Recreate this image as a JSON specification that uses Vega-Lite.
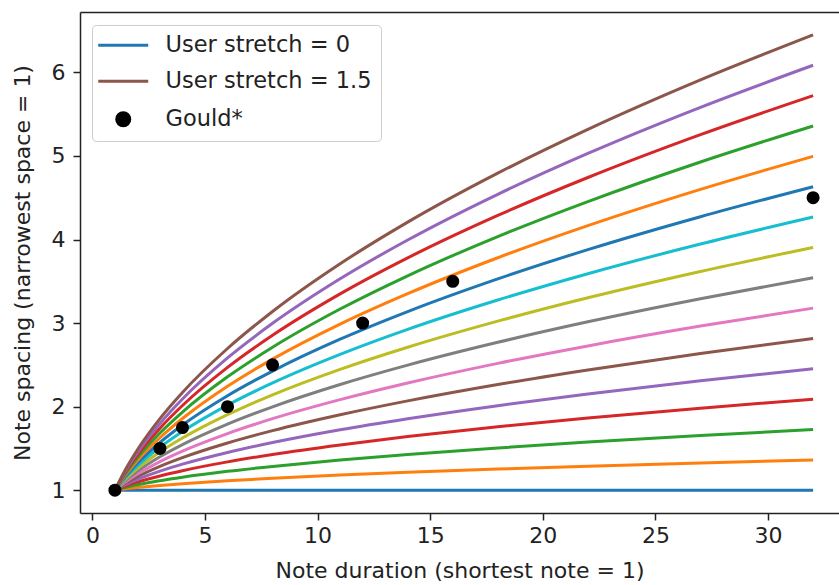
{
  "$schema": "https://vega.github.io/schema/vega-lite/v6.json",
  "width": 759,
  "height": 501,
  "autosize": {"type": "none"},
  "padding": {"left": 80, "top": 12, "right": 0, "bottom": 72},
  "background": "white",
  "config": {
    "view": {"stroke": null},
    "font": "DejaVu Sans",
    "axis": {
      "labelFont": "DejaVu Sans", "titleFont": "DejaVu Sans",
      "labelFontSize": 22, "titleFontSize": 22, "titleFontWeight": "normal",
      "labelColor": "#222", "titleColor": "#222",
      "domainColor": "#222", "domainWidth": 1.5,
      "tickColor": "#222", "tickWidth": 1.5, "tickSize": 7,
      "grid": false, "labelPadding": 5
    }
  },
  "encoding": {
    "y": {
      "field": "y", "type": "quantitative",
      "scale": {"domain": [0.7275, 6.7225], "nice": false, "zero": false},
      "axis": {"values": [1, 2, 3, 4, 5, 6], "title": "Note spacing (narrowest space = 1)", "titlePadding": 17, "labelPadding": 8}
    },
    "color": {
      "field": "s", "type": "nominal",
      "scale": {
        "domain": ["0","0.1","0.2","0.3","0.4","0.5","0.6","0.7","0.8","0.9","1","1.1","1.2","1.3","1.4","1.5","Gould*"],
        "range": ["#1f77b4","#ff7f0e","#2ca02c","#d62728","#9467bd","#8c564b","#e377c2","#7f7f7f","#bcbd22","#17becf","#1f77b4","#ff7f0e","#2ca02c","#d62728","#9467bd","#8c564b","#000000"]
      },
      "legend": {
        "orient": "none", "legendX": 12, "legendY": 13,
        "values": ["0", "1.5", "Gould*"],
        "title": null,
        "labelExpr": "datum.label === 'Gould*' ? 'Gould*' : 'User stretch = ' + datum.label",
        "symbolType": "stroke", "symbolSize": 100, "symbolStrokeWidth": 3,
        "symbolOffset": 11,
        "labelFont": "DejaVu Sans", "labelFontSize": 22.5, "labelColor": "#222", "labelLimit": 500,
        "padding": 9, "rowPadding": 13, "labelOffset": 31,
        "fillColor": "rgba(255,255,255,0.8)", "strokeColor": "#cccccc", "cornerRadius": 4,
        "encode": {
          "symbols": {
            "update": {
              "shape": {"signal": "datum.value === 'Gould*' ? 'circle' : 'M-5,0H5'"},
              "size": {"signal": "datum.value === 'Gould*' ? 170 : 100"},
              "fill": {"signal": "datum.value === 'Gould*' ? 'black' : 'transparent'"},
              "stroke": {"signal": "datum.value === 'Gould*' ? 'transparent' : scale('color', datum.value)"},
              "strokeWidth": {"value": 3},
              "opacity": {"value": 1}
            }
          }
        }
      }
    }
  },
  "layer": [
    {
      "data": {"values": [
        {"x":1,"s":"0","y":1},{"x":1.5,"s":"0","y":1},{"x":2,"s":"0","y":1},{"x":3,"s":"0","y":1},{"x":4,"s":"0","y":1},{"x":6,"s":"0","y":1},{"x":8,"s":"0","y":1},{"x":11,"s":"0","y":1},{"x":14,"s":"0","y":1},{"x":18,"s":"0","y":1},{"x":22,"s":"0","y":1},{"x":27,"s":"0","y":1},{"x":32,"s":"0","y":1},
        {"x":1,"s":"0.1","y":1},{"x":1.5,"s":"0.1","y":1.018},{"x":2,"s":"0.1","y":1.032},{"x":3,"s":"0.1","y":1.057},{"x":4,"s":"0.1","y":1.078},{"x":6,"s":"0.1","y":1.113},{"x":8,"s":"0.1","y":1.143},{"x":11,"s":"0.1","y":1.181},{"x":14,"s":"0.1","y":1.214},{"x":18,"s":"0.1","y":1.253},{"x":22,"s":"0.1","y":1.288},{"x":27,"s":"0.1","y":1.327},{"x":32,"s":"0.1","y":1.363},
        {"x":1,"s":"0.2","y":1},{"x":1.5,"s":"0.2","y":1.035},{"x":2,"s":"0.2","y":1.065},{"x":3,"s":"0.2","y":1.114},{"x":4,"s":"0.2","y":1.156},{"x":6,"s":"0.2","y":1.226},{"x":8,"s":"0.2","y":1.285},{"x":11,"s":"0.2","y":1.361},{"x":14,"s":"0.2","y":1.428},{"x":18,"s":"0.2","y":1.506},{"x":22,"s":"0.2","y":1.576},{"x":27,"s":"0.2","y":1.655},{"x":32,"s":"0.2","y":1.726},
        {"x":1,"s":"0.3","y":1},{"x":1.5,"s":"0.3","y":1.053},{"x":2,"s":"0.3","y":1.097},{"x":3,"s":"0.3","y":1.171},{"x":4,"s":"0.3","y":1.234},{"x":6,"s":"0.3","y":1.339},{"x":8,"s":"0.3","y":1.428},{"x":11,"s":"0.3","y":1.542},{"x":14,"s":"0.3","y":1.642},{"x":18,"s":"0.3","y":1.759},{"x":22,"s":"0.3","y":1.864},{"x":27,"s":"0.3","y":1.982},{"x":32,"s":"0.3","y":2.090},
        {"x":1,"s":"0.4","y":1},{"x":1.5,"s":"0.4","y":1.070},{"x":2,"s":"0.4","y":1.129},{"x":3,"s":"0.4","y":1.228},{"x":4,"s":"0.4","y":1.312},{"x":6,"s":"0.4","y":1.452},{"x":8,"s":"0.4","y":1.570},{"x":11,"s":"0.4","y":1.723},{"x":14,"s":"0.4","y":1.855},{"x":18,"s":"0.4","y":2.012},{"x":22,"s":"0.4","y":2.151},{"x":27,"s":"0.4","y":2.309},{"x":32,"s":"0.4","y":2.453},
        {"x":1,"s":"0.5","y":1},{"x":1.5,"s":"0.5","y":1.088},{"x":2,"s":"0.5","y":1.162},{"x":3,"s":"0.5","y":1.286},{"x":4,"s":"0.5","y":1.390},{"x":6,"s":"0.5","y":1.565},{"x":8,"s":"0.5","y":1.713},{"x":11,"s":"0.5","y":1.903},{"x":14,"s":"0.5","y":2.069},{"x":18,"s":"0.5","y":2.265},{"x":22,"s":"0.5","y":2.439},{"x":27,"s":"0.5","y":2.637},{"x":32,"s":"0.5","y":2.816},
        {"x":1,"s":"0.6","y":1},{"x":1.5,"s":"0.6","y":1.105},{"x":2,"s":"0.6","y":1.194},{"x":3,"s":"0.6","y":1.343},{"x":4,"s":"0.6","y":1.468},{"x":6,"s":"0.6","y":1.678},{"x":8,"s":"0.6","y":1.856},{"x":11,"s":"0.6","y":2.084},{"x":14,"s":"0.6","y":2.283},{"x":18,"s":"0.6","y":2.518},{"x":22,"s":"0.6","y":2.727},{"x":27,"s":"0.6","y":2.964},{"x":32,"s":"0.6","y":3.179},
        {"x":1,"s":"0.7","y":1},{"x":1.5,"s":"0.7","y":1.123},{"x":2,"s":"0.7","y":1.226},{"x":3,"s":"0.7","y":1.400},{"x":4,"s":"0.7","y":1.546},{"x":6,"s":"0.7","y":1.791},{"x":8,"s":"0.7","y":1.998},{"x":11,"s":"0.7","y":2.265},{"x":14,"s":"0.7","y":2.497},{"x":18,"s":"0.7","y":2.770},{"x":22,"s":"0.7","y":3.015},{"x":27,"s":"0.7","y":3.291},{"x":32,"s":"0.7","y":3.543},
        {"x":1,"s":"0.8","y":1},{"x":1.5,"s":"0.8","y":1.140},{"x":2,"s":"0.8","y":1.258},{"x":3,"s":"0.8","y":1.457},{"x":4,"s":"0.8","y":1.624},{"x":6,"s":"0.8","y":1.904},{"x":8,"s":"0.8","y":2.141},{"x":11,"s":"0.8","y":2.446},{"x":14,"s":"0.8","y":2.711},{"x":18,"s":"0.8","y":3.023},{"x":22,"s":"0.8","y":3.303},{"x":27,"s":"0.8","y":3.618},{"x":32,"s":"0.8","y":3.906},
        {"x":1,"s":"0.9","y":1},{"x":1.5,"s":"0.9","y":1.158},{"x":2,"s":"0.9","y":1.291},{"x":3,"s":"0.9","y":1.514},{"x":4,"s":"0.9","y":1.702},{"x":6,"s":"0.9","y":2.018},{"x":8,"s":"0.9","y":2.284},{"x":11,"s":"0.9","y":2.626},{"x":14,"s":"0.9","y":2.925},{"x":18,"s":"0.9","y":3.276},{"x":22,"s":"0.9","y":3.591},{"x":27,"s":"0.9","y":3.946},{"x":32,"s":"0.9","y":4.269},
        {"x":1,"s":"1","y":1},{"x":1.5,"s":"1","y":1.175},{"x":2,"s":"1","y":1.323},{"x":3,"s":"1","y":1.571},{"x":4,"s":"1","y":1.780},{"x":6,"s":"1","y":2.131},{"x":8,"s":"1","y":2.426},{"x":11,"s":"1","y":2.807},{"x":14,"s":"1","y":3.138},{"x":18,"s":"1","y":3.529},{"x":22,"s":"1","y":3.879},{"x":27,"s":"1","y":4.273},{"x":32,"s":"1","y":4.632},
        {"x":1,"s":"1.1","y":1},{"x":1.5,"s":"1.1","y":1.193},{"x":2,"s":"1.1","y":1.355},{"x":3,"s":"1.1","y":1.628},{"x":4,"s":"1.1","y":1.858},{"x":6,"s":"1.1","y":2.244},{"x":8,"s":"1.1","y":2.569},{"x":11,"s":"1.1","y":2.988},{"x":14,"s":"1.1","y":3.352},{"x":18,"s":"1.1","y":3.782},{"x":22,"s":"1.1","y":4.166},{"x":27,"s":"1.1","y":4.600},{"x":32,"s":"1.1","y":4.996},
        {"x":1,"s":"1.2","y":1},{"x":1.5,"s":"1.2","y":1.210},{"x":2,"s":"1.2","y":1.388},{"x":3,"s":"1.2","y":1.685},{"x":4,"s":"1.2","y":1.936},{"x":6,"s":"1.2","y":2.357},{"x":8,"s":"1.2","y":2.711},{"x":11,"s":"1.2","y":3.168},{"x":14,"s":"1.2","y":3.566},{"x":18,"s":"1.2","y":4.035},{"x":22,"s":"1.2","y":4.454},{"x":27,"s":"1.2","y":4.928},{"x":32,"s":"1.2","y":5.359},
        {"x":1,"s":"1.3","y":1},{"x":1.5,"s":"1.3","y":1.228},{"x":2,"s":"1.3","y":1.420},{"x":3,"s":"1.3","y":1.742},{"x":4,"s":"1.3","y":2.014},{"x":6,"s":"1.3","y":2.470},{"x":8,"s":"1.3","y":2.854},{"x":11,"s":"1.3","y":3.349},{"x":14,"s":"1.3","y":3.780},{"x":18,"s":"1.3","y":4.288},{"x":22,"s":"1.3","y":4.742},{"x":27,"s":"1.3","y":5.255},{"x":32,"s":"1.3","y":5.722},
        {"x":1,"s":"1.4","y":1},{"x":1.5,"s":"1.4","y":1.245},{"x":2,"s":"1.4","y":1.452},{"x":3,"s":"1.4","y":1.799},{"x":4,"s":"1.4","y":2.092},{"x":6,"s":"1.4","y":2.583},{"x":8,"s":"1.4","y":2.997},{"x":11,"s":"1.4","y":3.530},{"x":14,"s":"1.4","y":3.994},{"x":18,"s":"1.4","y":4.541},{"x":22,"s":"1.4","y":5.030},{"x":27,"s":"1.4","y":5.582},{"x":32,"s":"1.4","y":6.085},
        {"x":1,"s":"1.5","y":1},{"x":1.5,"s":"1.5","y":1.263},{"x":2,"s":"1.5","y":1.485},{"x":3,"s":"1.5","y":1.857},{"x":4,"s":"1.5","y":2.170},{"x":6,"s":"1.5","y":2.696},{"x":8,"s":"1.5","y":3.139},{"x":11,"s":"1.5","y":3.710},{"x":14,"s":"1.5","y":4.208},{"x":18,"s":"1.5","y":4.794},{"x":22,"s":"1.5","y":5.318},{"x":27,"s":"1.5","y":5.910},{"x":32,"s":"1.5","y":6.449}
      ]},
      "mark": {"type": "line", "strokeWidth": 3, "interpolate": "monotone"},
      "encoding": {
        "x": {
          "field": "x", "type": "quantitative",
          "scale": {"domain": [-0.55, 33.15], "nice": false, "zero": false},
          "axis": {"orient": "bottom", "values": [0, 5, 10, 15, 20, 25, 30], "title": "Note duration (shortest note = 1)", "titlePadding": 14}
        }
      }
    },
    {
      "data": {"values": [
        {"x":1,"y":1,"s":"Gould*"},{"x":3,"y":1.5,"s":"Gould*"},{"x":4,"y":1.75,"s":"Gould*"},{"x":6,"y":2,"s":"Gould*"},
        {"x":8,"y":2.5,"s":"Gould*"},{"x":12,"y":3,"s":"Gould*"},{"x":16,"y":3.5,"s":"Gould*"},{"x":32,"y":4.5,"s":"Gould*"}
      ]},
      "mark": {"type": "circle", "size": 170, "opacity": 1},
      "encoding": {
        "x": {
          "field": "x", "type": "quantitative",
          "axis": {"orient": "top", "labels": false, "ticks": false, "domain": true, "title": null}
        }
      }
    }
  ],
  "resolve": {"axis": {"x": "independent"}}
}
